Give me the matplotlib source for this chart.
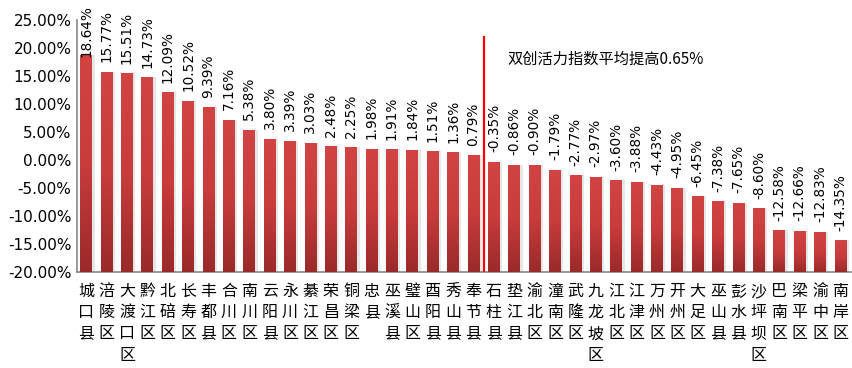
import numpy as np
import matplotlib.pyplot as plt
from matplotlib.ticker import FuncFormatter
from matplotlib.colors import LinearSegmentedColormap

plt.rcParams['font.family'] = ['Noto Sans CJK SC', 'DejaVu Sans']

# ---------------------------------------------------------------------------
# Data
# ---------------------------------------------------------------------------
districts = ["城口县", "涪陵区", "大渡口区", "黔江区", "北碚区", "长寿区", "丰都县",
             "合川区", "南川区", "云阳县", "永川区", "綦江区", "荣昌区", "铜梁区",
             "忠县", "巫溪县", "璧山区", "酉阳县", "秀山县", "奉节县", "石柱县",
             "垫江县", "渝北区", "潼南区", "武隆区", "九龙坡区", "江北区", "江津区",
             "万州区", "开州区", "大足区", "巫山县", "彭水县", "沙坪坝区", "巴南区",
             "梁平区", "渝中区", "南岸区"]
growth = [18.64, 15.77, 15.51, 14.73, 12.09, 10.52, 9.39, 7.16, 5.38, 3.80,
          3.39, 3.03, 2.48, 2.25, 1.98, 1.91, 1.84, 1.51, 1.36, 0.79,
          -0.35, -0.86, -0.90, -1.79, -2.77, -2.97, -3.60, -3.88, -4.43, -4.95,
          -6.45, -7.38, -7.65, -8.60, -12.58, -12.66, -12.83, -14.35]
avg_text = "双创活力指数平均提高0.65%"
y_min, y_max = -20, 25

# ---------------------------------------------------------------------------
# Figure
# ---------------------------------------------------------------------------
fig = plt.figure(figsize=(8.52, 3.68), dpi=100)
ax = fig.add_axes([0.0904, 0.261, 0.908, 0.685])

x = np.arange(len(districts))
vals = np.array(growth)

# shadow then bars (Excel draws the bars up from the axis floor at -20%)
ax.bar(x + 0.12, vals - y_min, bottom=y_min, width=0.58, color="#e6e6e6",
       zorder=1, linewidth=0)
bars = ax.bar(x, vals - y_min, bottom=y_min, width=0.58, color="#c03a3a",
              zorder=2, linewidth=0)

# vertical gradient inside each bar
cmap = LinearSegmentedColormap.from_list("red_grad", ["#9a2a2a", "#c83c3c", "#d24444"])
grad = np.linspace(0, 1, 256).reshape(-1, 1)
for b in bars:
    x0, w = b.get_x(), b.get_width()
    y0, h = b.get_y(), b.get_height()
    im = ax.imshow(grad, cmap=cmap, origin="lower", aspect="auto",
                   extent=[x0, x0 + w, y0, y0 + h], zorder=3)
    im.set_clip_path(b)

# value labels, rotated; the tallest one is pushed down to stay inside the figure
for xi, v in zip(x, vals):
    ax.text(xi, min(v + 1.7, 18.4), f"{v:.2f}%", rotation=90, ha="center",
            va="bottom", fontsize=9.8, family="DejaVu Sans", color="black", zorder=4)

# average marker line and note
ax.plot([19.5, 19.5], [y_min, 22.0], color="#ff0000", linewidth=1.6, zorder=5)
ax.text(20.65, 18.0, avg_text, fontsize=11, va="center", ha="left", zorder=5)

# axes styling
ax.set_xlim(-0.45, 37.5)
ax.set_ylim(y_min, y_max)
ax.set_yticks(np.arange(-20, 26, 5))
ax.yaxis.set_major_formatter(FuncFormatter(lambda v, p: f"{v:.2f}%"))
ax.tick_params(axis="y", length=0, labelsize=11, pad=4)
for lab in ax.get_yticklabels():
    lab.set_family("DejaVu Sans")

ax.set_xticks(x)
ax.set_xticklabels(["\n".join(d) for d in districts], fontsize=11.5,
                   linespacing=1.32, va="top")
ax.tick_params(axis="x", length=0, pad=8)

for side in ["top", "right"]:
    ax.spines[side].set_visible(False)
ax.spines["left"].set_color("#888888")
ax.spines["bottom"].set_color("#888888")
ax.spines["left"].set_linewidth(1.2)
ax.spines["bottom"].set_linewidth(1.2)

fig.savefig("out.png", dpi=100)
